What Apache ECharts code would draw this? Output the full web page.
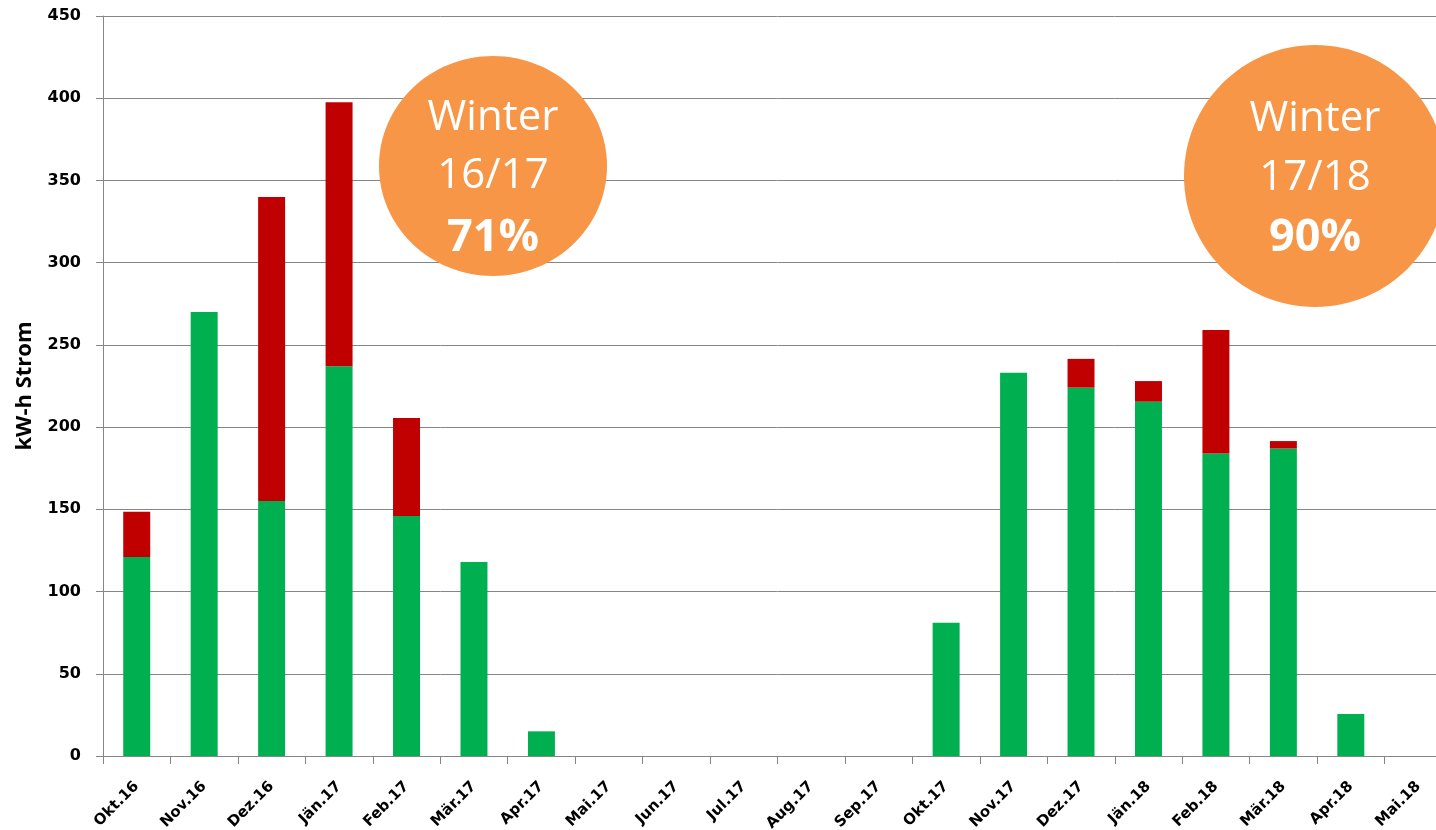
<!DOCTYPE html>
<html>
<head>
<meta charset="utf-8">
<title>kW-h Strom</title>
<script src="https://cdn.jsdelivr.net/npm/echarts@6/dist/echarts.min.js"></script>
<style>
  html, body { margin: 0; padding: 0; background: #fff; overflow: hidden; }
  /* Excel-Diagramm ist rechts abgeschnitten: Zeichenfläche breiter als Fenster */
  #main { width: 1452px; height: 830px; }
</style>
</head>
<body>
<div id="main"></div>
<script>
// Monate (x-Achse)
const months = ['Okt.16', 'Nov.16', 'Dez.16', 'Jän.17', 'Feb.17', 'Mär.17', 'Apr.17', 'Mai.17', 'Jun.17', 'Jul.17',
  'Aug.17', 'Sep.17', 'Okt.17', 'Nov.17', 'Dez.17', 'Jän.18', 'Feb.18', 'Mär.18', 'Apr.18', 'Mai.18'];
// grüner Anteil
const greenValues = [121, 270, 155, 237, 146, 118, 15, 0, 0, 0, 0, 0, 81, 233, 224, 215.5, 184, 187, 25.5, 0];
// roter Anteil (oben drauf)
const redValues = [27.5, 0, 185, 160.5, 59.5, 0, 0, 0, 0, 0, 0, 0, 0, 0, 17.5, 12.5, 75, 4.5, 0, 0];
// y-Achse
const yMin = 0;
const yMax = 450;
const yStep = 50;
// Winter-Kreise
const winterTitle = 'Winter';
const winterSeasons = ['16/17', '17/18'];
const winterPercent = ['71%', '90%'];

const chart = echarts.init(document.getElementById('main'));

// orange Kreis mit drei Textzeilen; ys = Mitte jeder Zeile
function bubble(cx, cy, rx, ry, ys, season, pct) {
  const txt = (y, text, font) => ({
    type: 'text', x: cx, y: y, z: 101,
    style: { text: text, fill: '#fff', font: font, textAlign: 'center', textVerticalAlign: 'middle' }
  });
  return [
    { type: 'ellipse', z: 100, shape: { cx: cx, cy: cy, rx: rx, ry: ry }, style: { fill: '#F79646' } },
    txt(ys[0], winterTitle, '42px "Open Sans"'),
    txt(ys[1], season, '42px "Open Sans"'),
    txt(ys[2], pct, 'bold 45px "Open Sans"')
  ];
}

const option = {
  animation: false,
  grid: { left: 103, top: 16, bottom: 74, right: 0, containLabel: false, outerBoundsMode: 'none' },
  xAxis: {
    type: 'category',
    data: months,
    axisLine: { lineStyle: { color: '#868686', width: 1 } },
    axisTick: { show: true, length: 8, lineStyle: { color: '#868686' } },
    axisLabel: {
      rotate: 45, interval: 0, margin: 28,
      color: '#000', fontFamily: 'DejaVu Sans', fontWeight: 'bold', fontSize: 15
    }
  },
  yAxis: {
    type: 'value',
    min: yMin, max: yMax, interval: yStep,
    name: 'kW-h Strom',
    nameLocation: 'middle',
    nameGap: 67,
    nameTextStyle: { color: '#000', fontFamily: 'Open Sans', fontWeight: 'bold', fontSize: 22 },
    axisLine: { show: true, lineStyle: { color: '#868686', width: 1 } },
    axisTick: { show: true, length: 7, lineStyle: { color: '#868686' } },
    axisLabel: {
      margin: 22, color: '#000', fontFamily: 'DejaVu Sans', fontWeight: 'bold', fontSize: 16
    },
    splitLine: { lineStyle: { color: '#868686', width: 1 } }
  },
  series: [
    {
      name: 'grün', type: 'bar', stack: 'strom', data: greenValues,
      barWidth: '40%', itemStyle: { color: '#00B050' }
    },
    {
      name: 'rot', type: 'bar', stack: 'strom', data: redValues,
      barWidth: '40%', itemStyle: { color: '#C00000' }
    }
  ],
  graphic: [].concat(
    bubble(493, 166, 114, 110, [118, 176, 238], winterSeasons[0], winterPercent[0]),
    bubble(1315, 176, 131, 131, [119, 178, 238], winterSeasons[1], winterPercent[1])
  )
};

chart.setOption(option);
</script>
</body>
</html>
